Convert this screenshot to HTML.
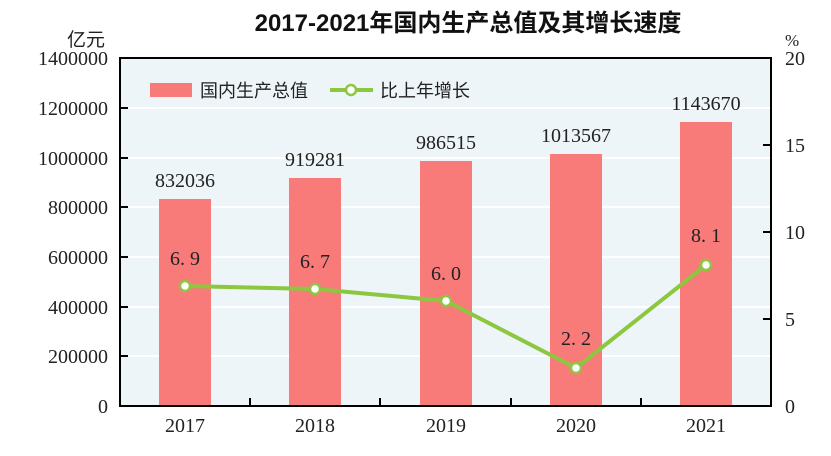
<!DOCTYPE html><html><head><meta charset="utf-8"><style>body{margin:0;background:#fff}svg{display:block}</style></head><body>
<svg width="831" height="456" xmlns="http://www.w3.org/2000/svg" font-family="'Liberation Serif','Noto Serif CJK SC',serif">
<text x="468" y="31" text-anchor="middle" font-family="'Liberation Sans','Noto Sans CJK SC',sans-serif" font-size="24" font-weight="bold" fill="#111">2017-2021年国内生产总值及其增长速度</text>
<rect x="120" y="58" width="651" height="348" fill="#edf5f8"/>
<g stroke="#fff" stroke-width="2">
<line x1="120" x2="771" y1="108" y2="108"/><line x1="120" x2="771" y1="158" y2="158"/><line x1="120" x2="771" y1="207" y2="207"/><line x1="120" x2="771" y1="257" y2="257"/><line x1="120" x2="771" y1="307" y2="307"/><line x1="120" x2="771" y1="356" y2="356"/></g>
<g fill="#f87b7a">
<rect x="159" y="199" width="52" height="207"/><rect x="289" y="178" width="52" height="228"/><rect x="420" y="161" width="52" height="245"/><rect x="550" y="154" width="52" height="252"/><rect x="680" y="122" width="52" height="284"/></g>
<rect x="120" y="58" width="651" height="348" fill="none" stroke="#000" stroke-width="2"/>
<g stroke="#000" stroke-width="2">
<line x1="120" x2="128" y1="108" y2="108"/><line x1="120" x2="128" y1="158" y2="158"/><line x1="120" x2="128" y1="207" y2="207"/><line x1="120" x2="128" y1="257" y2="257"/><line x1="120" x2="128" y1="307" y2="307"/><line x1="120" x2="128" y1="356" y2="356"/>
<line x1="763" x2="771" y1="145" y2="145"/><line x1="763" x2="771" y1="232" y2="232"/><line x1="763" x2="771" y1="319" y2="319"/>
<line x1="250" x2="250" y1="398" y2="406"/><line x1="380" x2="380" y1="398" y2="406"/><line x1="511" x2="511" y1="398" y2="406"/><line x1="641" x2="641" y1="398" y2="406"/></g>
<g font-size="20" fill="#222" text-anchor="end">
<text x="108" y="65">1400000</text><text x="108" y="115">1200000</text><text x="108" y="165">1000000</text><text x="108" y="214">800000</text><text x="108" y="264">600000</text><text x="108" y="314">400000</text><text x="108" y="363">200000</text><text x="108" y="413">0</text>
<text x="105" y="46" font-family="'Noto Sans CJK SC',sans-serif" font-size="19">亿元</text></g>
<g font-size="20" fill="#222">
<text x="785" y="65">20</text><text x="785" y="152">15</text><text x="785" y="239">10</text><text x="785" y="326">5</text><text x="785" y="413">0</text><text x="785" y="46" font-size="17">%</text></g>
<g font-size="20" fill="#222" text-anchor="middle">
<text x="185" y="432">2017</text><text x="315" y="432">2018</text><text x="446" y="432">2019</text><text x="576" y="432">2020</text><text x="706" y="432">2021</text>
<text x="185" y="187">832036</text><text x="315" y="166">919281</text><text x="446" y="149">986515</text><text x="576" y="142">1013567</text><text x="706" y="110">1143670</text>
<text x="185" y="265">6. 9</text><text x="315" y="268">6. 7</text><text x="446" y="280">6. 0</text><text x="576" y="345">2. 2</text><text x="706" y="242">8. 1</text></g>
<polyline points="185,286 315,289 446,301 576,368 706,265" fill="none" stroke="#8dc63f" stroke-width="4"/>
<g fill="#fff" stroke="#8dc63f" stroke-width="2.5">
<circle cx="185" cy="286" r="5"/><circle cx="315" cy="289" r="5"/><circle cx="446" cy="301" r="5"/><circle cx="576" cy="368" r="5"/><circle cx="706" cy="265" r="5"/></g>
<rect x="150" y="83" width="42" height="14" fill="#f87b7a"/>
<text x="200" y="97" font-family="'Noto Sans CJK SC',sans-serif" font-size="18" fill="#222">国内生产总值</text>
<line x1="330" x2="373" y1="90" y2="90" stroke="#8dc63f" stroke-width="4"/>
<circle cx="351" cy="90" r="5" fill="#fff" stroke="#8dc63f" stroke-width="2.5"/>
<text x="380" y="97" font-family="'Noto Sans CJK SC',sans-serif" font-size="18" fill="#222">比上年增长</text>
</svg></body></html>
